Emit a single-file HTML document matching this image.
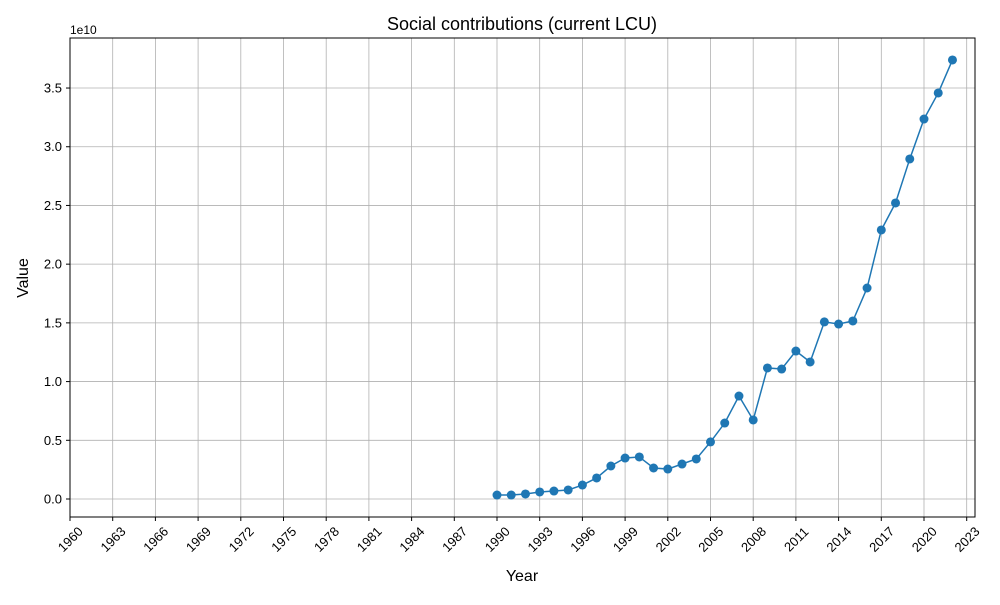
<!DOCTYPE html>
<html><head><meta charset="utf-8"><style>
body{margin:0;background:#fff;font-family:"Liberation Sans",sans-serif;}
svg text{font-family:"Liberation Sans","DejaVu Sans",sans-serif;fill:#000;}
</style></head><body>
<svg id="chart" width="1000" height="600">
<text x="522" y="30" font-size="18" text-anchor="middle">Social contributions (current LCU)</text>
<text x="70" y="34" font-size="12">1e10</text>
<g id="grid"></g><g id="ticks"></g><g id="series"></g>
<rect x="70" y="38" width="905" height="479" fill="none" stroke="#000" stroke-width="1"/>
<text x="522" y="581" font-size="16" text-anchor="middle">Year</text>
<text x="28" y="278" font-size="16" text-anchor="middle" transform="rotate(-90 28 278)">Value</text>
</svg>
<script>
const years=[1990,1991,1992,1993,1994,1995,1996,1997,1998,1999,2000,2001,2002,2003,2004,2005,2006,2007,2008,2009,2010,2011,2012,2013,2014,2015,2016,2017,2018,2019,2020,2021,2022];
const values=[0.034,0.034,0.043,0.060,0.068,0.077,0.119,0.179,0.281,0.349,0.358,0.264,0.255,0.298,0.341,0.486,0.647,0.877,0.673,1.116,1.107,1.26,1.167,1.508,1.49,1.516,1.797,2.291,2.521,2.896,3.236,3.458,3.739];
const xTicks=[1960,1963,1966,1969,1972,1975,1978,1981,1984,1987,1990,1993,1996,1999,2002,2005,2008,2011,2014,2017,2020,2023];
const yTicks=[0,0.5,1.0,1.5,2.0,2.5,3.0,3.5];
const NS="http://www.w3.org/2000/svg";
const xs=y=>70+(y-1960)*(427/30);
const ys=v=>499-v*117.42;
function mk(t,a,p){const e=document.createElementNS(NS,t);for(const k in a)e.setAttribute(k,a[k]);p.appendChild(e);return e;}
const grid=document.getElementById('grid'),ticks=document.getElementById('ticks'),ser=document.getElementById('series');
xTicks.forEach(t=>{const x=xs(t);
const g=mk('line',{x1:x,x2:x,y1:38,y2:517,stroke:'#b0b0b0','stroke-width':0.8},grid);

mk('line',{x1:x,x2:x,y1:517,y2:521,stroke:'#000'},ticks);
const tx=mk('text',{x:x,y:544,'font-size':13,'text-anchor':'middle',transform:`rotate(-45 ${x} 539)`},ticks);

tx.textContent=t;});
yTicks.forEach(t=>{const y=ys(t);
const g=mk('line',{x1:70,x2:975,y1:y,y2:y,stroke:'#b0b0b0','stroke-width':0.8},grid);

mk('line',{x1:66,x2:70,y1:y,y2:y,stroke:'#000'},ticks);
const tx=mk('text',{x:62,y:y+4.5,'font-size':13,'text-anchor':'end'},ticks);

tx.textContent=t.toFixed(1);});
const pl=mk('polyline',{points:years.map((y,i)=>xs(y)+','+ys(values[i])).join(' '),fill:'none',stroke:'#1f77b4','stroke-width':1.5},ser);

years.forEach((y,i)=>{const c=mk('circle',{cx:xs(y),cy:ys(values[i]),r:4.5,fill:'#1f77b4'},ser);
});
</script>
</body></html>
